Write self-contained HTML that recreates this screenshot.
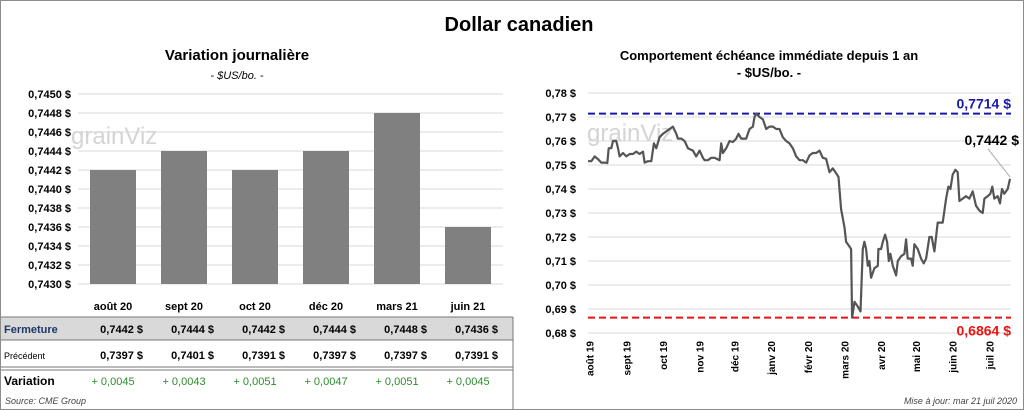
<!DOCTYPE html>
<html><head><meta charset="utf-8"><style>
body{margin:0;background:#fff;font-family:"Liberation Sans",sans-serif}
#wrap{position:relative;width:1022px;height:408px;border:1px solid #8c8c8c;overflow:hidden}
svg text{font-family:"Liberation Sans",sans-serif}
</style></head><body>
<div id="wrap">
<svg id="s" width="1022" height="408">
<text x="518" y="30" font-size="20" font-weight="bold" text-anchor="middle">Dollar canadien</text>
<text x="236" y="59" font-size="15" font-weight="bold" text-anchor="middle">Variation  journalière</text>
<text x="236" y="78" font-size="11" font-style="italic" text-anchor="middle">- $US/bo. -</text>
<text x="768" y="59" font-size="13" font-weight="bold" text-anchor="middle">Comportement échéance immédiate depuis 1 an</text>
<text x="768" y="76" font-size="13" font-weight="bold" text-anchor="middle">- $US/bo. -</text>
<text x="70" y="143" font-size="24" fill="#d4d4d4">grainViz</text>
<text x="586" y="140" font-size="24" fill="#d4d4d4">grainViz</text>
<g id="left"></g><g id="right"></g><g id="table"></g>
<text x="4" y="403" font-size="9" font-style="italic" fill="#444">Source: CME Group</text>
<text x="1016" y="403" font-size="9" font-style="italic" fill="#444" text-anchor="end">Mise à jour: mar 21 juil 2020</text>
</svg></div>
<script>
const barCats=["août 20","sept 20","oct 20","déc 20","mars 21","juin 21"];
const barVals=[0.7442,0.7444,0.7442,0.7444,0.7448,0.7436];
const prevVals=[0.7397,0.7401,0.7391,0.7397,0.7397,0.7391];
const leftTicks=[0.7430,0.7432,0.7434,0.7436,0.7438,0.7440,0.7442,0.7444,0.7446,0.7448,0.7450];
const tDays=[0,2,4,6,8,10,11.6,12.4,14,15,17,18,19,21,23,25,27,29,31,33,34,36,38,39.6,41,43,45,47,49,51,53,54,56,58,60,63,65,67,69,70,72,74,76,79,80,81,83,85,87,89,90.4,92,95,97,99,100,101,103,105,107,109,111,113,115,117,119,121,123,125,127,129,131,133,135,137,139,141,143,145,147,149,150.4,152,154,155,157,158,158.6,160,162,163.6,165,166,167,168,169,170,172,174,174.4,176,177,178.4,179.6,180.6,181.6,183,185,186,188,190,191,192,194,195,196,198,200,201.6,203,205,206.4,208,210,213,215,216.4,217.6,219,220.6,222,223,225,227,229,231,233,235,237,238,240,241.6,242.8,244,246,247.4,248.6,250,252,253.4];
const lineVals=[0.7516,0.7516,0.7536,0.7524,0.7510,0.7510,0.7508,0.7570,0.7570,0.7600,0.7600,0.7570,0.7536,0.7550,0.7536,0.7546,0.7546,0.7556,0.7546,0.7556,0.7510,0.7516,0.7516,0.7590,0.7570,0.7616,0.7630,0.7640,0.7650,0.7660,0.7630,0.7610,0.7610,0.7600,0.7570,0.7560,0.7536,0.7560,0.7530,0.7520,0.7520,0.7530,0.7530,0.7520,0.7590,0.7550,0.7570,0.7600,0.7596,0.7610,0.7630,0.7610,0.7610,0.7650,0.7660,0.7700,0.7714,0.7700,0.7690,0.7650,0.7660,0.7660,0.7650,0.7650,0.7616,0.7600,0.7590,0.7570,0.7536,0.7520,0.7520,0.7510,0.7540,0.7550,0.7550,0.7560,0.7530,0.7526,0.7470,0.7486,0.7466,0.7450,0.7316,0.7240,0.7180,0.7160,0.7150,0.6864,0.6930,0.6910,0.6890,0.7150,0.7180,0.7150,0.7080,0.7100,0.7030,0.7070,0.7080,0.7150,0.7150,0.7180,0.7210,0.7180,0.7100,0.7130,0.7080,0.7040,0.7100,0.7120,0.7130,0.7190,0.7110,0.7110,0.7080,0.7170,0.7150,0.7110,0.7090,0.7110,0.7200,0.7200,0.7140,0.7260,0.7260,0.7360,0.7410,0.7400,0.7460,0.7480,0.7470,0.7350,0.7360,0.7370,0.7360,0.7390,0.7330,0.7310,0.7300,0.7360,0.7370,0.7380,0.7410,0.7360,0.7370,0.7340,0.7400,0.7380,0.7400,0.7442];
const rightTicks=[0.68,0.69,0.70,0.71,0.72,0.73,0.74,0.75,0.76,0.77,0.78];
const monthLabels=["août 19","sept 19","oct 19","nov 19","déc 19","janv 20","févr 20","mars 20","avr 20","mai 20","juin 20","juil 20"];
const monthDays=[1,23,45,67,88,110,132,154,176,197,219,241];
const maxVal=0.7714, minVal=0.6864, lastVal=0.7442;

const NS="http://www.w3.org/2000/svg";
function mk(p,t,a,txt){const e=document.createElementNS(NS,t);for(const k in a)e.setAttribute(k,a[k]);if(txt!=null)e.textContent=txt;p.appendChild(e);return e;}
const fmt4=v=>v.toFixed(4).replace('.',',');
const fmt2=v=>v.toFixed(2).replace('.',',');
const L=document.getElementById('left');
const ly=v=>93+(0.7450-v)/0.0002*19;
const bandX=i=>77+i*71;
leftTicks.forEach(t=>{
 const g=mk(L,'line',{x1:77,x2:502,y1:ly(t),y2:ly(t),stroke:'#d9d9d9','stroke-width':1});
 
 
 const tx=mk(L,'text',{x:70,y:ly(t)+4,'font-size':11,'font-weight':'bold','text-anchor':'end'},fmt4(t)+' $');
 
 
});
barVals.forEach((v,i)=>{
 const r=mk(L,'rect',{x:bandX(i)+12,y:ly(v),width:46,height:ly(0.7430)-ly(v),fill:'#808080'});
 
 
});
const T=document.getElementById('table');
mk(T,'rect',{x:0,y:316,width:512,height:23,fill:'#d9d9d9'});
mk(T,'line',{x1:0,x2:512,y1:316,y2:316,stroke:'#777'});
mk(T,'line',{x1:0,x2:512,y1:339,y2:339,stroke:'#777'});
mk(T,'line',{x1:0,x2:512,y1:366,y2:366,stroke:'#777'});
mk(T,'line',{x1:0,x2:512,y1:369,y2:369,stroke:'#777'});
mk(T,'line',{x1:512,x2:512,y1:316,y2:408,stroke:'#777'});
const rh=mk(T,'text',{x:3,y:332,'font-size':11,'font-weight':'bold',fill:'#1f3864'},'Fermeture');

const rp=mk(T,'text',{x:3,y:358,'font-size':9},'Précédent');

const rv=mk(T,'text',{x:3,y:384,'font-size':12,'font-weight':'bold'},'Variation');

barCats.forEach((c,i)=>{
 const cx=bandX(i)+35;
 const h=mk(T,'text',{x:cx,y:309,'font-size':11,'font-weight':'bold','text-anchor':'middle'},c);
 
 const f=mk(T,'text',{x:cx+30,y:332,'font-size':11,'font-weight':'bold','text-anchor':'end','xml:space':'preserve'},fmt4(barVals[i])+'   $');
 
 const p=mk(T,'text',{x:cx+30,y:358,'font-size':11,'font-weight':'bold','text-anchor':'end','xml:space':'preserve'},fmt4(prevVals[i])+'   $');
 
 const d=mk(T,'text',{x:cx,y:384,'font-size':11,fill:'#2e8b2e','text-anchor':'middle'},'+ '+fmt4(barVals[i]-prevVals[i]));
 
});
const R=document.getElementById('right');
const ry=v=>92+(0.78-v)/0.01*24;
const rx=t=>587+t/253.4*422;
rightTicks.forEach(t=>{
 const g=mk(R,'line',{x1:587,x2:1010,y1:ry(t),y2:ry(t),stroke:'#d9d9d9'});
 
 const tx=mk(R,'text',{x:575,y:ry(t)+4,'font-size':11,'font-weight':'bold','text-anchor':'end'},fmt2(t)+' $');
 
});
monthLabels.forEach((m,i)=>{
 const x=rx(monthDays[i]);
 const tx=mk(R,'text',{x:0,y:0,'font-size':10,'font-weight':'bold','text-anchor':'end',transform:`translate(${x+4},340) rotate(-90)`},m);
 
});
const mx=mk(R,'line',{x1:587,x2:1010,y1:ry(maxVal),y2:ry(maxVal),stroke:'#1a1aaa','stroke-width':2,'stroke-dasharray':'7,4'});

const mn=mk(R,'line',{x1:587,x2:1010,y1:ry(minVal),y2:ry(minVal),stroke:'#ee1111','stroke-width':2,'stroke-dasharray':'7,4'});

const mxl=mk(R,'text',{x:1010,y:ry(maxVal)-5,'font-size':14,'font-weight':'bold',fill:'#1a1aaa','text-anchor':'end','xml:space':'preserve'},fmt4(maxVal)+'  $');

const mnl=mk(R,'text',{x:1010,y:ry(minVal)+18,'font-size':14,'font-weight':'bold',fill:'#ee1111','text-anchor':'end','xml:space':'preserve'},fmt4(minVal)+'  $');

const n=Math.min(tDays.length,lineVals.length);
const pts=[];for(let i=0;i<n;i++)pts.push(rx(tDays[i]).toFixed(1)+','+ry(lineVals[i]).toFixed(1));
const pl=mk(R,'polyline',{points:pts.join(' '),fill:'none',stroke:'#555','stroke-width':2.2,'stroke-linejoin':'round'});

const lx=rx(tDays[n-1]), lyv=ry(lastVal);
const ld=mk(R,'line',{x1:lx,y1:lyv-2,x2:lx-22,y2:lyv-30,stroke:'#aaa'});

const ll=mk(R,'text',{x:1018,y:lyv-34,'font-size':14,'font-weight':'bold','text-anchor':'end'},fmt4(lastVal)+' $');

</script>
</body></html>
